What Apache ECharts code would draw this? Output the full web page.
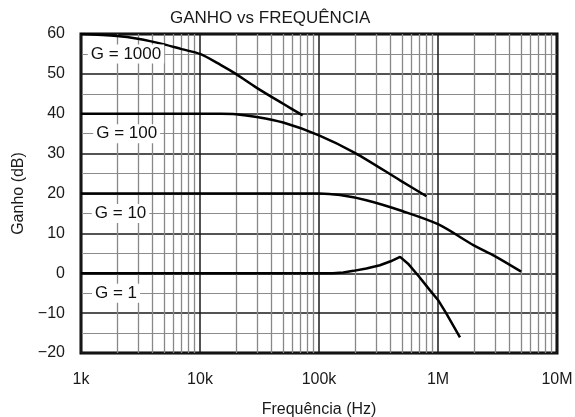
<!DOCTYPE html>
<html>
<head>
<meta charset="utf-8">
<script src="https://cdn.jsdelivr.net/npm/echarts@6/dist/echarts.min.js"></script>
<style>html,body{margin:0;padding:0;background:#fff;}#c{width:575px;height:417px;}</style>
</head>
<body>
<div id="c"></div>
<script>
// ---- data ----
var xTicks = [1000, 10000, 100000, 1000000, 10000000];
var xTickLabels = ['1k', '10k', '100k', '1M', '10M'];
var yTicks = [-20, -10, 0, 10, 20, 30, 40, 50, 60];

var g1000Freq = [1000, 2000, 3000, 5000, 7000, 10000, 15000, 20000, 30000, 50000, 73000];
var g1000Gain = [60, 59.5, 58.8, 57.4, 56.2, 55, 52.2, 50, 46.5, 42.5, 39.6];

var g100Freq = [1000, 15000, 20000, 30000, 50000, 100000, 200000, 480000, 800000];
var g100Gain = [40, 40, 39.9, 39.2, 37.8, 34.6, 30.2, 23.3, 19.3];

var g10Freq = [1000, 100000, 150000, 250000, 500000, 1000000, 2000000, 3000000, 5000000];
var g10Gain = [20, 20, 19.6, 18.3, 15.6, 12.3, 7.0, 4.3, 0.4];

var g1Freq = [1000, 130000, 160000, 195000, 250000, 325000, 400000, 480000, 560000, 700000, 857000, 1000000, 1170000, 1530000];
var g1Gain = [0, 0, 0.2, 0.6, 1.2, 2.0, 3.0, 4.1, 2.4, -1.0, -4.3, -6.7, -10, -16.1];

var curveNames = ['G = 1000', 'G = 100', 'G = 10', 'G = 1'];
var labelFreq = [2390, 2420, 2150, 1970];
var labelGain = [55, 35, 15, -5];

var minorMultipliers = [2, 3, 4, 5, 6, 7, 8, 9];
var decades = [1000, 10000, 100000, 1000000];

// ---- build ----
function zip(a, b) { return a.map(function (v, i) { return [v, b[i]]; }); }
var minorLines = [];
decades.forEach(function (d) { minorMultipliers.forEach(function (m) { minorLines.push({ xAxis: d * m }); }); });

var FONT = '"Liberation Sans", Arial, sans-serif';
var curveStyle = { color: '#000', width: 2.5 };

var chart = echarts.init(document.getElementById('c'), null, { renderer: 'canvas' });
chart.setOption({
  animation: false,
  backgroundColor: '#fff',
  textStyle: { fontFamily: FONT },
  grid: { left: 81, right: 18, top: 34, bottom: 64, containLabel: false, outerBoundsMode: 'none', show: true, borderColor: '#000', borderWidth: 3, backgroundColor: 'transparent' },
  graphic: [{
    type: 'text', left: 270 - 100, top: 10, z: 10,
    style: { text: 'GANHO vs FREQUÊNCIA', x: 0, fill: '#1a1a1a', font: '17px ' + FONT, width: 200, align: 'center' }
  }],
  xAxis: {
    type: 'log', logBase: 10, min: 1000, max: 10000000,
    axisLine: { show: false }, axisTick: { show: false },
    axisLabel: {
      fontSize: 16, color: '#1a1a1a', margin: 19, fontFamily: FONT,
      formatter: function (v) { var i = Math.round(Math.log10(v)) - 3; return xTickLabels[i] || ''; }
    },
    splitLine: { show: true, lineStyle: { color: '#1a1a1a', width: 1.5 } },
    name: 'Frequência (Hz)', nameLocation: 'middle', nameGap: 49,
    nameTextStyle: { fontSize: 16, color: '#1a1a1a', fontFamily: FONT }
  },
  yAxis: {
    type: 'value', min: -20, max: 60, interval: 10,
    axisLine: { show: false }, axisTick: { show: false },
    axisLabel: {
      fontSize: 16, color: '#1a1a1a', margin: 16, fontFamily: FONT,
      formatter: function (v) { return yTicks.indexOf(v) >= 0 ? String(v).replace('-', '\u2212') : ''; }
    },
    splitLine: { show: true, lineStyle: { color: '#1a1a1a', width: 1.5 } },
    minorTick: { show: false, splitNumber: 2 },
    minorSplitLine: { show: true, lineStyle: { color: '#8c8c8c', width: 1.2 } },
    name: 'Ganho (dB)', nameLocation: 'middle', nameGap: 52,
    nameTextStyle: { fontSize: 16, color: '#1a1a1a', fontFamily: FONT }
  },
  series: [
    {
      type: 'line', name: 'minor', data: [], silent: true, z: 1,
      markLine: {
        silent: true, symbol: ['none', 'none'], label: { show: false },
        lineStyle: { color: '#888', width: 1.3, type: 'solid' },
        emphasis: { disabled: true }, animation: false,
        data: minorLines
      }
    },
    { type: 'line', name: curveNames[0], data: zip(g1000Freq, g1000Gain), smooth: 0.3, showSymbol: false, lineStyle: curveStyle, z: 5 },
    { type: 'line', name: curveNames[1], data: zip(g100Freq, g100Gain), smooth: 0.3, showSymbol: false, lineStyle: curveStyle, z: 5 },
    { type: 'line', name: curveNames[2], data: zip(g10Freq, g10Gain), smooth: 0.3, showSymbol: false, lineStyle: curveStyle, z: 5 },
    { type: 'line', name: curveNames[3], data: zip(g1Freq, g1Gain), smooth: false, showSymbol: false, lineStyle: curveStyle, z: 5 },
    {
      type: 'scatter', name: 'labels', z: 6, silent: true,
      symbolSize: 1, itemStyle: { color: '#fff', opacity: 1 },
      emphasis: { disabled: true },
      data: labelFreq.map(function (f, i) { return { value: [f, labelGain[i]], name: curveNames[i] }; }),
      label: {
        show: true, position: 'inside', formatter: '{b}',
        fontSize: 17, color: '#111', opacity: 1, fontFamily: FONT,
        textBorderWidth: 0,
        backgroundColor: '#fff', padding: [1, 3]
      }
    }
  ]
});
</script>
</body>
</html>
